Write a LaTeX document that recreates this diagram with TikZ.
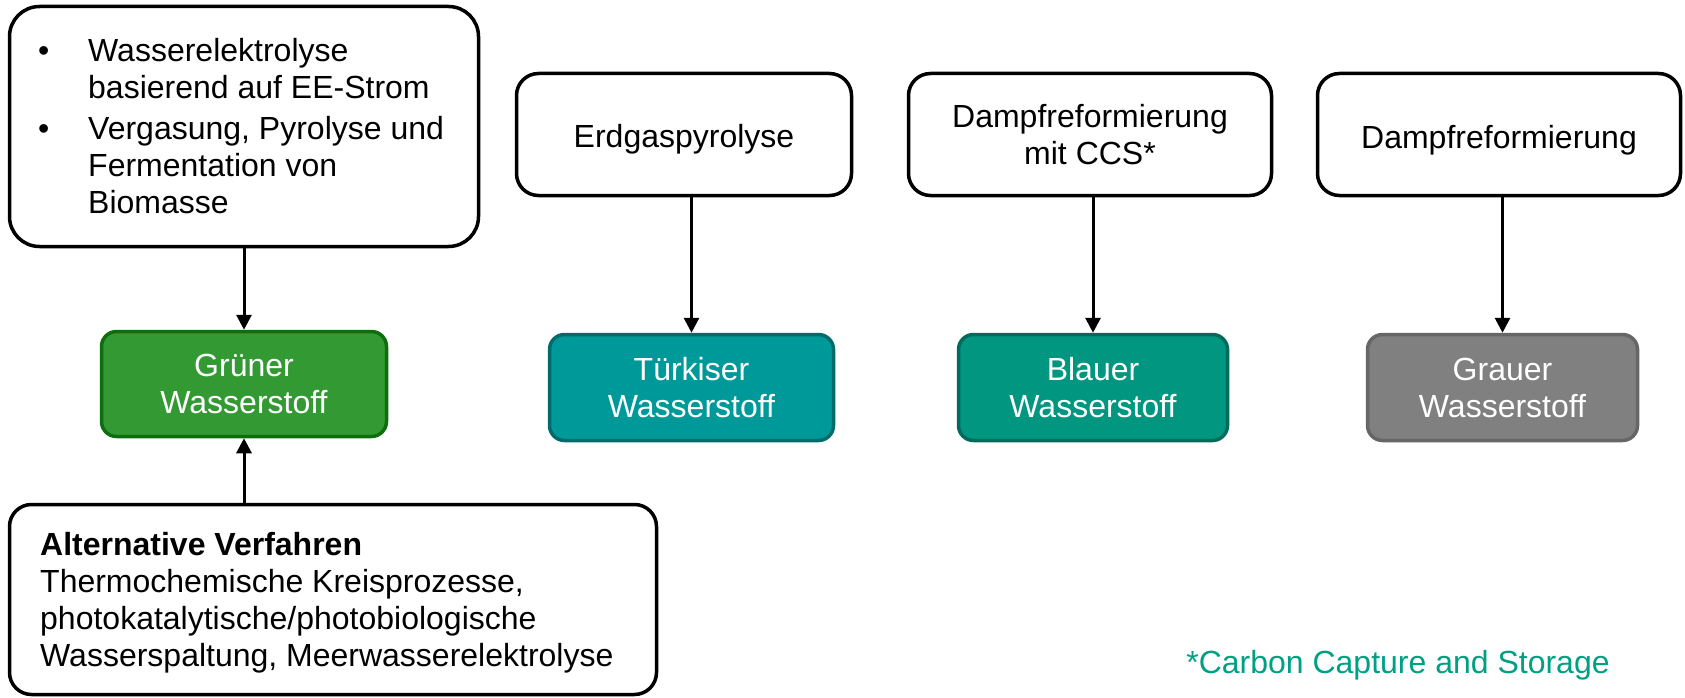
\documentclass[tikz,border=0pt]{standalone}
\usepackage{fontspec}
\setmainfont{Liberation Sans}
\usetikzlibrary{arrows.meta}
\definecolor{gfill}{HTML}{339933}
\definecolor{gdraw}{HTML}{0E6E0E}
\definecolor{tfill}{HTML}{009999}
\definecolor{tdraw}{HTML}{006B6B}
\definecolor{bfill}{HTML}{009680}
\definecolor{bdraw}{HTML}{006B5A}
\definecolor{grfill}{HTML}{808080}
\definecolor{grdraw}{HTML}{666666}
\definecolor{footcol}{HTML}{00A082}
\begin{document}
\begin{tikzpicture}[x=1pt,y=-1pt,
  every node/.style={font=\fontsize{32}{36}\selectfont},
  blk/.style={draw=black, line width=3.5pt, rounded corners=22pt, fill=white, inner sep=0pt, align=center},
  hbox/.style={line width=3.5pt, rounded corners=15pt, text=white, align=center, inner sep=0pt, minimum height=106pt, font=\fontsize{32}{37}\selectfont},
  listtxt/.style={anchor=base west, inner sep=0pt, font=\fontsize{32}{37}\selectfont},
  arr/.style={line width=3pt, -{Triangle[length=15pt,width=15pt]}}]
\useasboundingbox (0,0) rectangle (1685,698);

% source boxes
\node[blk, rounded corners=30pt, minimum width=469pt, minimum height=240pt] (src) at (244,126.5) {};
\node[listtxt] (srctxt) at (38,62) {%
\begin{tabular}[t]{@{}p{50pt}@{}l@{}}
\textbullet & Wasserelektrolyse\\
 & basierend auf EE-Strom\\[4pt]
\textbullet & Vergasung, Pyrolyse und\\
 & Fermentation von\\
 & Biomasse
\end{tabular}};

\node[blk, minimum width=335pt, minimum height=122pt] (erd) at (684,134.5) {\raisebox{-13pt}[0pt][0pt]{Erdgaspyrolyse}};
\node[blk, minimum width=363pt, minimum height=122pt] (ccs) at (1090,134.5) {\raisebox{6.5pt}[0pt][0pt]{\begin{tabular}[t]{@{}c@{}}Dampfreformierung\\mit CCS*\end{tabular}}};
\node[blk, minimum width=363pt, minimum height=122pt] (dampf) at (1499,134.5) {\raisebox{-13.5pt}[0pt][0pt]{Dampfreformierung}};

% hydrogen boxes
\node[hbox, fill=gfill, draw=gdraw, minimum width=285pt, minimum height=105pt] (gruen) at (244,384) {Grüner\\Wasserstoff};
\node[hbox, fill=tfill, draw=tdraw, minimum width=284pt] (tuerk) at (691.5,387.5) {Türkiser\\Wasserstoff};
\node[hbox, fill=bfill, draw=bdraw, minimum width=269pt] (blau) at (1093,387.5) {Blauer\\Wasserstoff};
\node[hbox, fill=grfill, draw=grdraw, minimum width=270pt] (grau) at (1502.5,387.5) {Grauer\\Wasserstoff};

% alternative box
\node[blk, minimum width=647pt, minimum height=190pt] (alt) at (333,599.5) {};
\node[listtxt] (alttxt) at (40,555) {%
\begin{tabular}[t]{@{}l@{}}
\textbf{Alternative Verfahren}\\
Thermochemische Kreisprozesse,\\
photokatalytische/photobiologische\\
Wasserspaltung, Meerwasserelektrolyse
\end{tabular}};

% footnote
\node[anchor=base, text=footcol, inner sep=0pt] (foot) at (1398,673) {*Carbon Capture and Storage};

% arrows
\draw[arr] (src.south) -- (gruen.north);
\draw[arr] (alt.north -| gruen.south) -- (gruen.south);
\draw[arr] (erd.south -| tuerk.north) -- (tuerk.north);
\draw[arr] (ccs.south -| blau.north) -- (blau.north);
\draw[arr] (dampf.south -| grau.north) -- (grau.north);
\end{tikzpicture}
\end{document}
